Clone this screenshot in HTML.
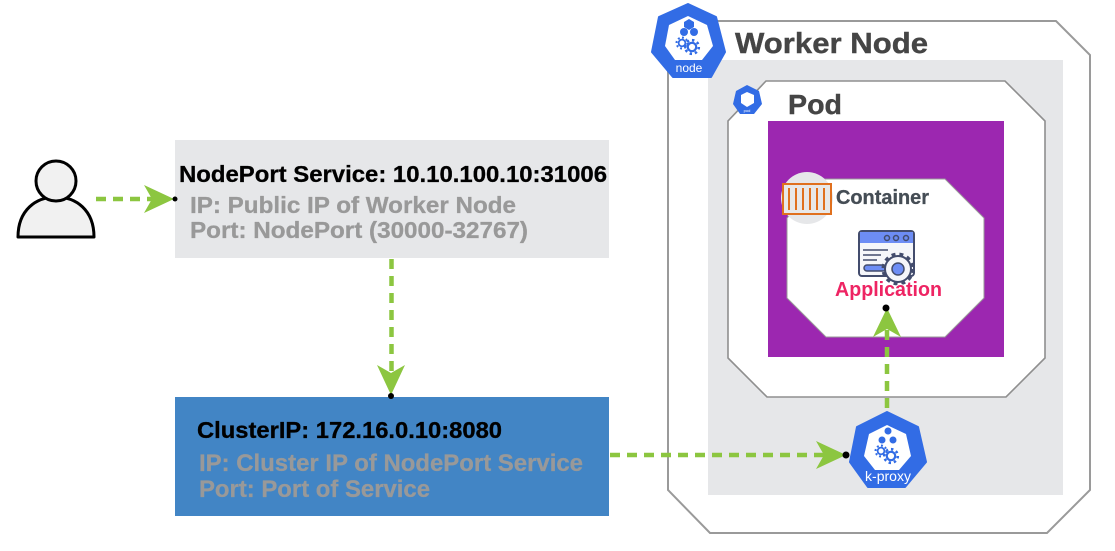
<!DOCTYPE html>
<html><head><meta charset="utf-8"><style>
html,body{margin:0;padding:0;background:#fff}
svg{display:block}
text{font-family:"Liberation Sans",sans-serif;font-weight:bold}
</style></head><body>
<svg width="1115" height="551" viewBox="0 0 1115 551" xmlns="http://www.w3.org/2000/svg">
<defs>
<g id="gear"><circle r="4.2" fill="none" stroke="#326ce5" stroke-width="2.2"/><circle r="6.8" fill="none" stroke="#326ce5" stroke-width="2.6" stroke-dasharray="2.4 2.9"/></g>
</defs>
<!-- Worker node -->
<polygon points="702,21 1056,21 1090,55 1090,490 1047,533 710,533 668,490 668,55" fill="#fff" stroke="#9a9a9a" stroke-width="2"/>
<rect x="708" y="60" width="355" height="435" fill="#e6e7e9"/>
<polygon points="766,81 1005,81 1045,121 1045,358 1006,397 767,397 728,358 728,121" fill="#fff" stroke="#8f8f8f" stroke-width="1.6"/>
<rect x="768" y="121" width="236" height="236" fill="#9c27b0"/>
<polygon points="824,179 945,179 984,218 984,298 945,337 826,337 787,298 787,218" fill="#fff" stroke="#9a9a9a" stroke-width="1"/>
<!-- node icon -->
<polygon points="688,4 716,17 725,52 711,77 673,77 652,52 659,17" fill="#326ce5" stroke="#326ce5" stroke-width="2" stroke-linejoin="round"/>
<polygon points="688,16 707,25 713,46 702,60 675,60 665,46 669,25" fill="#fff"/>
<polygon points="689,19 694,22 694,27 689,30 684,27 684,22" fill="#326ce5"/>
<circle cx="684" cy="32" r="4" fill="#326ce5"/><circle cx="694" cy="32" r="4" fill="#326ce5"/>
<use href="#gear" transform="translate(682,43) scale(.8)"/><use href="#gear" transform="translate(692,47)"/>
<text x="689" y="72" font-size="12" fill="#fff" text-anchor="middle" style="font-weight:normal">node</text>
<text x="735" y="53" font-size="29" fill="#454545" stroke="#454545" stroke-width=".4" textLength="193" lengthAdjust="spacingAndGlyphs">Worker Node</text>
<!-- pod icon -->
<polygon points="747,85 759,91 762,104 754,114 740,114 733,104 736,91" fill="#326ce5"/>
<polygon points="747,92 754,95 754,103 747,107 741,103 741,95" fill="#fff"/>
<text x="747" y="112" font-size="4" fill="#fff" text-anchor="middle" style="font-weight:normal">pod</text>
<text x="788" y="114" font-size="28" fill="#454545" stroke="#454545" stroke-width=".4" textLength="54" lengthAdjust="spacingAndGlyphs">Pod</text>
<!-- container -->
<circle cx="807" cy="198" r="26" fill="#e6e7e9"/>
<rect x="783" y="184" width="48" height="30" fill="#e8e8e8" stroke="#e0701e" stroke-width="2"/>
<path d="M789 188v22M796 188v22M803 188v22M810 188v22M817 188v22M824 188v22" stroke="#e0701e" stroke-width="2"/>
<text x="836" y="204" font-size="20" fill="#454d55" stroke="#454d55" stroke-width=".3" textLength="93" lengthAdjust="spacingAndGlyphs">Container</text>
<!-- application icon -->
<rect x="859" y="231" width="55" height="45" rx="3" fill="#f5f6fa" stroke="#434c6d" stroke-width="2"/>
<path d="M860 232h53v11h-53z" fill="#6d8df5"/>
<circle cx="887" cy="238" r="2.5" fill="none" stroke="#434c6d" stroke-width="1.5"/><circle cx="896" cy="238" r="2.5" fill="none" stroke="#434c6d" stroke-width="1.5"/><circle cx="906" cy="238" r="2.5" fill="none" stroke="#434c6d" stroke-width="1.5"/>
<path d="M863 250h25M863 255h18M863 260h14" stroke="#434c6d" stroke-width="1.5"/>
<rect x="864" y="265" width="22" height="6" rx="3" fill="#6d8df5" stroke="#434c6d" stroke-width="1.5"/>
<circle cx="898" cy="269" r="13" fill="#f5f6fa" stroke="#434c6d" stroke-width="2"/>
<circle cx="898" cy="269" r="15" fill="none" stroke="#434c6d" stroke-width="3" stroke-dasharray="4 4"/>
<circle cx="898" cy="269" r="6" fill="#6d8df5" stroke="#434c6d" stroke-width="1.5"/>
<text x="835" y="296" font-size="20" fill="#ee2463" stroke="#fff" stroke-width="2" paint-order="stroke" textLength="107" lengthAdjust="spacingAndGlyphs">Application</text>
<!-- service boxes -->
<rect x="175" y="140" width="434" height="118" fill="#e6e7e9"/>
<text x="179" y="182" font-size="23" fill="#000" stroke="#000" stroke-width=".3" textLength="428" lengthAdjust="spacingAndGlyphs">NodePort Service: 10.10.100.10:31006</text>
<text x="190" y="213" font-size="23" fill="#999" stroke="#999" stroke-width=".3" textLength="326" lengthAdjust="spacingAndGlyphs">IP: Public IP of Worker Node</text>
<text x="190" y="238" font-size="23" fill="#999" stroke="#999" stroke-width=".3" textLength="338" lengthAdjust="spacingAndGlyphs">Port: NodePort (30000-32767)</text>
<rect x="175" y="397" width="434" height="119" fill="#4285c5"/>
<text x="197" y="438" font-size="23" fill="#000" stroke="#000" stroke-width=".3" textLength="305" lengthAdjust="spacingAndGlyphs">ClusterIP: 172.16.0.10:8080</text>
<text x="199" y="471" font-size="24" fill="#999" stroke="#999" stroke-width=".3" textLength="384" lengthAdjust="spacingAndGlyphs">IP: Cluster IP of NodePort Service</text>
<text x="199" y="497" font-size="24" fill="#999" stroke="#999" stroke-width=".3" textLength="231" lengthAdjust="spacingAndGlyphs">Port: Port of Service</text>
<!-- person -->
<path d="M18 237C18 210 36 197 56 197C76 197 94 210 94 237Z" fill="#f1f1f1" stroke="#000" stroke-width="3" stroke-linejoin="round"/>
<circle cx="56" cy="181" r="20" fill="#f1f1f1" stroke="#000" stroke-width="3"/>
<!-- connectors -->
<g stroke="#8cc640" stroke-width="4.5" stroke-dasharray="10 7" fill="none">
<path d="M96 199H160"/>
<path d="M391.500 259V380"/>
<path d="M610 455H832"/>
<path d="M887 408V320"/>
</g>
<g fill="#8cc640">
<polygon points="144,185 174,199 144,213 152,199"/>
<polygon points="377,365 391,395 405,365 391,373"/>
<polygon points="816,441 846,455 816,469 824,455"/>
<polygon points="873,337 887,308 901,337 887,329"/>
</g>
<g fill="#000">
<circle cx="175" cy="199" r="2.500"/><circle cx="391" cy="396" r="3"/><circle cx="846" cy="455" r="3.500"/><circle cx="886" cy="308" r="3.500"/>
</g>
<!-- k-proxy -->
<polygon points="887,412 918,427 926,462 905,487 868,487 850,462 857,427" fill="#326ce5" stroke="#326ce5" stroke-width="2" stroke-linejoin="round"/>
<polygon points="887,425 906,434 911,456 899,470 875,470 864,456 869,434" fill="#fff"/>
<circle cx="888" cy="431" r="3.500" fill="#326ce5"/><circle cx="882" cy="440" r="3.500" fill="#326ce5"/><circle cx="893" cy="440" r="3.500" fill="#326ce5"/>
<use href="#gear" transform="translate(881,451) scale(.8)"/><use href="#gear" transform="translate(891,456)"/>
<text x="888" y="481" font-size="14" fill="#fff" text-anchor="middle" style="font-weight:normal">k-proxy</text>
</svg>
</body></html>
